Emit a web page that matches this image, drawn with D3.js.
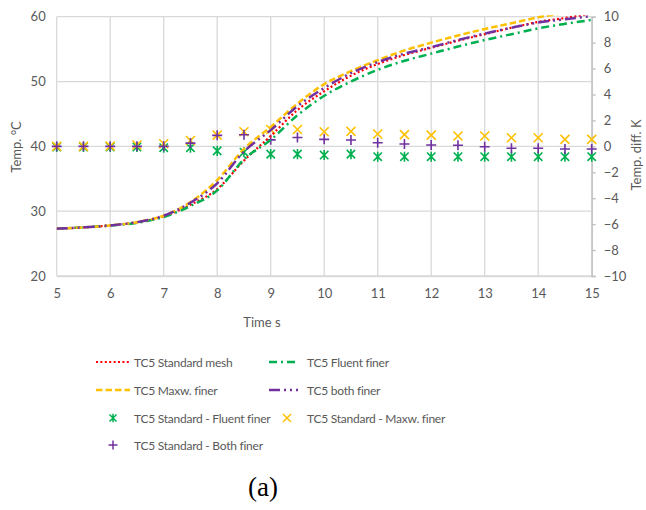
<!DOCTYPE html>
<html><head><meta charset="utf-8">
<script src="https://cdn.jsdelivr.net/npm/d3@7"></script>
<style>body{margin:0;background:#fff}text{font-family:Lato,"Open Sans",sans-serif}</style>
</head><body><svg id="c" width="646" height="510"></svg>
<script>
const times = [5,5.5,6,6.5,7,7.5,8,8.5,9,9.5,10,10.5,11,11.5,12,12.5,13,13.5,14,14.5,15];
const tc5Standard = [27.3,27.5,27.8,28.3,29.2,31.0,33.4,37.8,41.6,45.6,48.5,50.9,52.7,54.1,55.2,56.3,57.3,58.3,59.2,59.8,60.5];
const tc5Fluent   = [27.3,27.5,27.8,28.2,29.1,30.8,33.2,38.0,41.0,44.8,47.8,50.0,51.8,53.2,54.3,55.4,56.4,57.3,58.2,58.9,59.5];
const tc5Maxw     = [27.3,27.5,27.8,28.3,29.3,31.4,34.8,39.6,43.0,46.6,49.6,51.6,53.3,54.8,56.0,57.1,58.1,59.0,59.9,60.6,61.2];
const tc5Both     = [27.3,27.5,27.8,28.3,29.3,31.3,34.3,39.2,42.5,46.2,49.0,51.3,53.0,54.3,55.3,56.4,57.4,58.3,59.1,59.6,60.1];
const diffFluent  = [-0.05,-0.05,-0.05,-0.05,-0.1,-0.1,-0.35,-0.45,-0.6,-0.6,-0.67,-0.6,-0.8,-0.8,-0.8,-0.8,-0.8,-0.8,-0.8,-0.8,-0.8];
const diffMaxw    = [0,0,0.02,0.1,0.2,0.45,0.87,1.13,1.3,1.3,1.13,1.15,0.95,0.9,0.87,0.8,0.8,0.66,0.66,0.54,0.54];
const diffBoth    = [0,0,0,0,0,0.25,0.85,0.9,0.5,0.68,0.54,0.49,0.28,0.18,0.1,0.08,-0.03,-0.15,-0.15,-0.2,-0.2];
const xTicks = [5,6,7,8,9,10,11,12,13,14,15];
const yLeftTicks = [20,30,40,50,60];
const yRightTicks = [-10,-8,-6,-4,-2,0,2,4,6,8,10];

const L=56.7,R=591.7,T=16.7,B=276;
const svg=d3.select("#c");
const x=d3.scaleLinear().domain([5,15]).range([L,R]);
const yL=d3.scaleLinear().domain([20,60]).range([B,T]);
const yR=d3.scaleLinear().domain([-10,10]).range([B,T]);
const grid="#d9d9d9", txt="#595959";
const FS="13px";

// gridlines
const g=svg.append("g");
g.selectAll(".vg").data(xTicks).join("line").attr("x1",d=>x(d)).attr("x2",d=>x(d)).attr("y1",T).attr("y2",B).attr("stroke",grid).attr("stroke-width",1.3);
g.selectAll(".hg").data(yLeftTicks).join("line").attr("x1",L).attr("x2",R).attr("y1",d=>yL(d)).attr("y2",d=>yL(d)).attr("stroke",grid).attr("stroke-width",1.3);

// axes
const axB=svg.append("g").attr("transform",`translate(0,${B})`).call(d3.axisBottom(x).tickValues(xTicks).tickSize(0).tickPadding(13));
const axLft=svg.append("g").attr("transform",`translate(${L},0)`).call(d3.axisLeft(yL).tickValues(yLeftTicks).tickSize(0).tickPadding(11));
const axR=svg.append("g").attr("transform",`translate(${R},0)`).call(d3.axisRight(yR).tickValues(yRightTicks).tickSize(4).tickPadding(8).tickFormat(d=>d3.format("")(d).replace("-","−")));
[axB,axLft,axR].forEach(a=>{a.selectAll("text").attr("fill",txt).style("font-size",FS);a.select(".domain").attr("stroke","#bfbfbf").attr("stroke-width",1.3);a.selectAll(".tick line").attr("stroke","#bfbfbf").attr("stroke-width",1.3);});
axLft.select(".domain").remove();
axB.select(".domain").attr("stroke",grid);

// clip
svg.append("clipPath").attr("id","clip").append("rect").attr("x",L).attr("y",T-1.5).attr("width",R-L).attr("height",B-T+1.5);

// markers
const mk=svg.append("g");
const star=(s)=>`M${-s},${-s}L${s},${s}M${-s},${s}L${s},${-s}M0,${-s*1.2}L0,${s*1.2}`;
const cross=(s)=>`M${-s},${-s}L${s},${s}M${-s},${s}L${s},${-s}`;
const plus=(s)=>`M${-s},0L${s},0M0,${-s}L0,${s}`;
function markers(vals,path,color){
  mk.selectAll(null).data(times.map((t,i)=>[t,vals[i]])).join("path")
    .attr("transform",d=>`translate(${x(d[0])},${yR(d[1])})`).attr("d",path)
    .attr("stroke",color).attr("stroke-width",1.6).attr("fill","none");
}
markers(diffFluent,star(4.2),"#00b050");
markers(diffMaxw,cross(4.5),"#ffc000");
markers(diffBoth,plus(5),"#7030a0");

// lines
const lines=svg.append("g").attr("clip-path","url(#clip)");
const line=d3.line().x(d=>x(d[0])).y(d=>yL(d[1])).curve(d3.curveMonotoneX);
const series=[
  {v:tc5Standard,c:"#ff0000",dash:"2 2.4",w:2.2},
  {v:tc5Fluent,c:"#00b050",dash:"8 4 2 4",w:2.5},
  {v:tc5Maxw,c:"#ffc000",dash:"6.5 3",w:2.5},
  {v:tc5Both,c:"#7030a0",dash:"11 4 2 4 2 4",w:2.5}
];
series.forEach(s=>{
  lines.append("path").datum(times.map((t,i)=>[t,s.v[i]])).attr("d",line)
   .attr("fill","none").attr("stroke",s.c).attr("stroke-width",s.w).attr("stroke-dasharray",s.dash);
});

// axis titles
svg.append("text").attr("transform","translate(21,147) rotate(-90)").attr("text-anchor","middle").attr("fill",txt).style("font-size",FS).text("Temp. °C");
svg.append("text").attr("transform","translate(641,155) rotate(-90)").attr("text-anchor","middle").attr("fill",txt).style("font-size",FS).text("Temp. diff. K");
svg.append("text").attr("x",262).attr("y",327).attr("text-anchor","middle").attr("fill",txt).style("font-size",FS).text("Time s");

// legend
const lg=svg.append("g");
const legendLines=[
  {label:"TC5 Standard mesh",s:series[0],x:96,y:362},
  {label:"TC5 Fluent finer",s:series[1],x:269,y:362},
  {label:"TC5 Maxw. finer",s:series[2],x:96,y:390},
  {label:"TC5 both finer",s:series[3],x:269,y:390}
];
const lgText=(xx,yy,label)=>lg.append("text").attr("x",xx).attr("y",yy+4.5).attr("fill",txt).style("font-size","12px").style("letter-spacing","-0.25px").text(label);
legendLines.forEach(d=>{
  const w = d.x<200?34:29;
  lg.append("line").attr("x1",d.x).attr("x2",d.x+w).attr("y1",d.y).attr("y2",d.y).attr("stroke",d.s.c).attr("stroke-width",d.s.w).attr("stroke-dasharray",d.s.dash);
  lgText(d.x<200?134:307,d.y,d.label);
});
const legendMarks=[
  {label:"TC5 Standard - Fluent finer",p:star(3.5),c:"#00b050",x:113,y:418},
  {label:"TC5 Standard - Maxw. finer",p:cross(4),c:"#ffc000",x:287,y:418},
  {label:"TC5 Standard - Both finer",p:plus(4.5),c:"#7030a0",x:113,y:445}
];
legendMarks.forEach(d=>{
  lg.append("path").attr("transform",`translate(${d.x},${d.y})`).attr("d",d.p).attr("stroke",d.c).attr("stroke-width",1.5).attr("fill","none");
  lgText(d.x<200?134:307,d.y,d.label);
});
svg.append("text").attr("x",263).attr("y",496).attr("text-anchor","middle").attr("fill","#000").style("font-family","'Liberation Serif','DejaVu Serif',serif").style("font-size","27px").text("(a)");
</script></body></html>
